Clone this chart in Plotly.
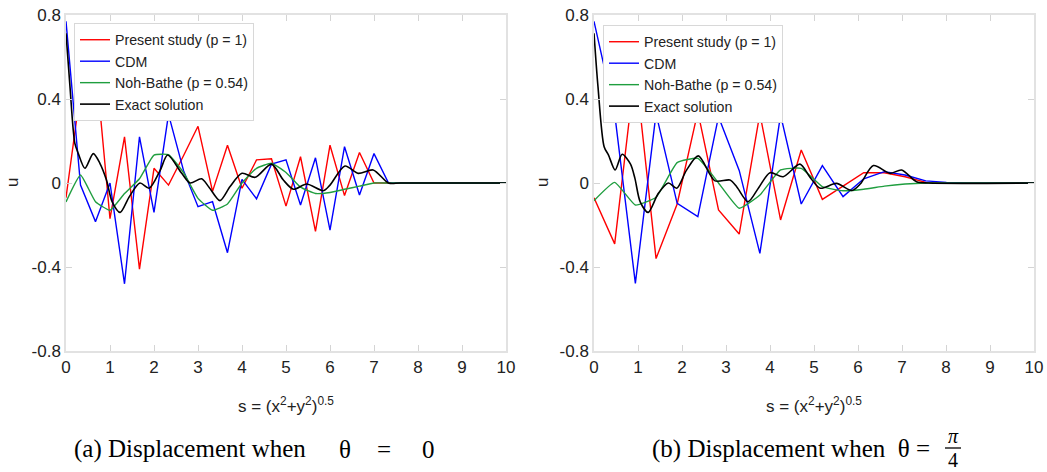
import plotly.graph_objects as go

W, H = 1047, 472

# ---------------- data: panel (a), theta = 0 ----------------
x_a = [0, 0.33, 0.67, 1.0, 1.33, 1.67, 2.0, 2.33, 2.67, 3.0, 3.33, 3.67, 4.0,
       4.33, 4.67, 5.0, 5.33, 5.67, 6.0, 6.33, 6.67, 7.0, 7.33, 10.0]
red_a = [-0.07, 0.44, 0.58, -0.17, 0.22, -0.41, 0.07, -0.01, 0.13, 0.27, -0.04,
         0.18, -0.025, 0.11, 0.115, -0.11, 0.125, -0.23, 0.18, -0.06, 0.145,
         0.0, 0.0, 0.0]
blue_a = [0.77, -0.01, -0.184, 0.0, -0.48, 0.22, -0.14, 0.327, 0.06, -0.113,
          -0.089, -0.332, 0.017, -0.075, 0.09, 0.11, -0.105, 0.12, -0.224,
          0.173, -0.057, 0.14, 0.0, 0.0]
green_a = [-0.09, 0.038, -0.089, -0.13, -0.05, 0.02, 0.133, 0.135, 0.05,
           -0.073, -0.13, -0.1, 0.0, 0.07, 0.094, 0.05, -0.02, -0.05, -0.045,
           -0.03, -0.015, 0.0, 0.0, 0.0]
exact_a_x = [0, 0.09, 0.2, 0.28, 0.43, 0.62, 0.77, 0.92, 1.05, 1.23, 1.44,
             1.68, 1.89, 2.14, 2.31, 2.63, 2.82, 3.08, 3.25, 3.5, 3.73, 4.0,
             4.3, 4.67, 4.94, 5.17, 5.47, 5.85, 6.0, 6.34, 6.64, 6.98, 7.33,
             7.6, 10.0]
exact_a_u = [0.713, 0.46, 0.19, 0.14, 0.07, 0.14, 0.094, 0.014, -0.09, -0.14,
             -0.065, 0.0, -0.025, 0.06, 0.133, 0.046, 0.0, 0.02, -0.02, -0.084,
             -0.017, 0.046, 0.027, 0.09, 0.014, -0.03, -0.005, -0.037, -0.01,
             0.081, 0.046, 0.062, 0.0, 0.0, 0.0]

# ---------------- data: panel (b), theta = pi/4 ----------------
x_b = [0, 0.47, 0.94, 1.41, 1.89, 2.36, 2.83, 3.30, 3.77, 4.24, 4.71, 5.19,
       5.66, 6.13, 6.60, 7.07, 7.54, 8.01, 8.49, 10.0]
red_b = [-0.07, -0.29, 0.55, -0.36, -0.1, 0.34, -0.128, -0.243, 0.33, -0.176,
         0.157, -0.078, -0.015, 0.049, 0.049, 0.03, 0.003, 0.0, 0.0, 0.0]
blue_b = [0.77, 0.33, -0.478, 0.33, -0.097, -0.16, 0.316, 0.06, -0.335, 0.324,
          -0.1, 0.083, -0.065, 0.02, 0.054, 0.038, 0.01, 0.003, 0.0, 0.0]
green_b = [-0.084, 0.003, -0.105, -0.068, 0.097, 0.117, 0.0, -0.12, -0.057,
           0.062, 0.07, -0.017, -0.037, -0.03, -0.015, -0.005, 0.0, 0.0, 0.0,
           0.0]
exact_b_x = [0, 0.09, 0.23, 0.33, 0.48, 0.64, 0.83, 0.93, 1.05, 1.23, 1.46,
             1.69, 1.88, 2.1, 2.37, 2.75, 3.09, 3.25, 3.5, 3.75, 4.0, 4.3,
             4.68, 4.9, 5.14, 5.51, 5.86, 6.05, 6.35, 6.73, 6.99, 7.33, 7.6,
             10.0]
exact_b_u = [0.713, 0.46, 0.173, 0.133, 0.062, 0.137, 0.09, 0.022, -0.09,
             -0.14, -0.05, 0.0, -0.025, 0.06, 0.129, 0.01, 0.014, -0.02,
             -0.089, -0.02, 0.049, 0.03, 0.09, 0.03, -0.025, -0.002, -0.036,
             -0.005, 0.083, 0.046, 0.062, 0.006, 0.0, 0.0]

series_names = ["Present study (p = 1)", "CDM", "Noh-Bathe (p = 0.54)",
                "Exact solution"]
y_tickvals = [-0.8, -0.4, 0, 0.4, 0.8]
y_ticktext = ["-0.8", "-0.4", "0", "0.4", "0.8"]
x_tickvals = [0, 1, 2, 3, 4, 5, 6, 7, 8, 9, 10]
x_title = "s = (x<sup>2</sup>+y<sup>2</sup>)<sup>0.5</sup>"

RED, BLUE, GREEN, BLACK = "#ff0000", "#0000ff", "#1f9e3f", "#000000"

fig = go.Figure()

def add_panel(xs, red, blue, green, ex_x, ex_u, xa, ya, leg):
    common = dict(xaxis=xa, yaxis=ya, legend=leg, mode="lines")
    fig.add_trace(go.Scatter(x=xs, y=red, name=series_names[0],
                             line=dict(color=RED, width=1.4), **common))
    fig.add_trace(go.Scatter(x=xs, y=blue, name=series_names[1],
                             line=dict(color=BLUE, width=1.4), **common))
    fig.add_trace(go.Scatter(x=xs, y=green, name=series_names[2],
                             line=dict(color=GREEN, width=1.4, shape="spline",
                                       smoothing=0.4), **common))
    fig.add_trace(go.Scatter(x=ex_x, y=ex_u, name=series_names[3],
                             line=dict(color=BLACK, width=1.6, shape="spline",
                                       smoothing=0.8), **common))

add_panel(x_a, red_a, blue_a, green_a, exact_a_x, exact_a_u, "x", "y", "legend")
add_panel(x_b, red_b, blue_b, green_b, exact_b_x, exact_b_u, "x2", "y2", "legend2")

def px(x):
    return x / W

def py(y):
    return 1 - y / H

FRAME = "#e2e2e2"
TICKC = "#d4d4d4"
tickfont = dict(family="Liberation Sans, Arial, sans-serif", size=17, color="#222222")

xcommon = dict(range=[0, 10], tickvals=x_tickvals, ticks="inside", ticklen=6,
               tickcolor=TICKC, tickwidth=1, showline=True, linecolor=FRAME,
               linewidth=1.5, mirror="ticks", showgrid=False, zeroline=False,
               tickfont=tickfont, fixedrange=True, automargin=False)
ycommon = dict(range=[-0.8, 0.8], tickvals=y_tickvals, ticktext=y_ticktext,
               ticks="inside", ticklen=6, tickcolor=TICKC, tickwidth=1,
               showline=True, linecolor=FRAME, linewidth=1.5, mirror="ticks",
               showgrid=False, zeroline=False, tickfont=tickfont,
               fixedrange=True, automargin=False)

ydom = [py(351), py(15)]
legfont = dict(family="Liberation Sans, Arial, sans-serif", size=14.2, color="#222222")
legcommon = dict(font=legfont, bgcolor="white", bordercolor="#d8d8d8",
                 borderwidth=1, xanchor="left", yanchor="top",
                 traceorder="normal", tracegroupgap=0)

fig.update_layout(
    width=W, height=H,
    margin=dict(l=0, r=0, t=0, b=0),
    paper_bgcolor="white", plot_bgcolor="white",
    xaxis=dict(domain=[px(66), px(506)], anchor="y", **xcommon),
    yaxis=dict(domain=ydom, anchor="x", **ycommon),
    xaxis2=dict(domain=[px(594), px(1034)], anchor="y2", **xcommon),
    yaxis2=dict(domain=ydom, anchor="x2", **ycommon),
    legend=dict(x=px(74), y=py(23), **legcommon),
    legend2=dict(x=px(603), y=py(25), **legcommon),
    showlegend=True,
)

ann = []
labfont = dict(family="Liberation Sans, Arial, sans-serif", size=17, color="#222222")
for cx in (13, 543):
    ann.append(dict(x=px(cx), y=py(183), xref="paper", yref="paper", text="u",
                    showarrow=False, textangle=-90, font=labfont,
                    xanchor="center", yanchor="middle"))
for cx in (286, 814):
    ann.append(dict(x=px(cx), y=py(405), xref="paper", yref="paper",
                    text=x_title, showarrow=False, font=labfont,
                    xanchor="center", yanchor="middle"))

capfont = dict(family="Liberation Serif, Times New Roman, serif", size=25, color="#000000")
# caption (a)
ann.append(dict(x=px(72), y=py(449), xref="paper", yref="paper",
                text="(a) Displacement when", showarrow=False,
                font=capfont, xanchor="left", yanchor="middle"))
for txt, cx in (("θ", 345), ("=", 384), ("0", 428)):
    ann.append(dict(x=px(cx), y=py(449), xref="paper", yref="paper", text=txt,
                    showarrow=False, font=capfont, xanchor="center",
                    yanchor="middle"))
# caption (b)
ann.append(dict(x=px(650), y=py(449), xref="paper", yref="paper",
                text="(b) Displacement when&nbsp;&nbsp;θ =", showarrow=False,
                font=capfont, xanchor="left", yanchor="middle"))
fracfont = dict(family="Liberation Serif, Times New Roman, serif", size=20, color="#000000")
ann.append(dict(x=px(953), y=py(436), xref="paper", yref="paper", text="<i>π</i>",
                showarrow=False, font=fracfont, xanchor="center", yanchor="middle"))
ann.append(dict(x=px(953), y=py(460), xref="paper", yref="paper", text="4",
                showarrow=False, font=fracfont, xanchor="center", yanchor="middle"))
fig.update_layout(annotations=ann)
fig.add_shape(type="line", xref="paper", yref="paper", x0=px(945), x1=px(961),
              y0=py(448), y1=py(448), line=dict(color="black", width=1.3))

fig.write_html("out.html")
